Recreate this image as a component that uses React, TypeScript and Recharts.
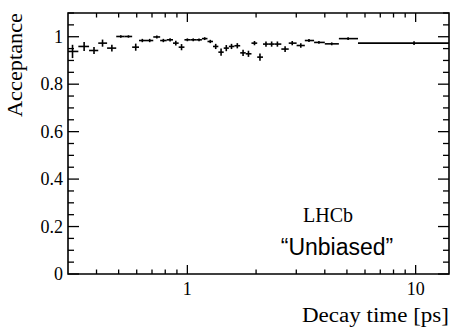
import React from 'react';
import { ScatterChart, Scatter, XAxis, YAxis, ErrorBar, ReferenceArea, Customized } from 'recharts';

// Decay-time bins [ps]: edges, bin centres, acceptance and its uncertainty
const binEdges = [
  0.3, 0.333, 0.371, 0.407, 0.445, 0.488, 0.531, 0.573, 0.614, 0.659, 0.709,
  0.76, 0.812, 0.865, 0.916, 0.971, 1.03, 1.093, 1.158, 1.225, 1.295, 1.367,
  1.443, 1.52, 1.607, 1.704, 1.802, 1.909, 2.023, 2.144, 2.275, 2.41, 2.58,
  2.78, 3.01, 3.27, 3.59, 4.0, 4.61, 5.59, 14,
];
const binCentres = [
  0.314, 0.353, 0.39, 0.425, 0.467, 0.511, 0.552, 0.594, 0.635, 0.684, 0.735,
  0.785, 0.84, 0.89, 0.943, 1.0, 1.061, 1.125, 1.191, 1.26, 1.331, 1.405,
  1.481, 1.561, 1.655, 1.754, 1.852, 1.968, 2.08, 2.21, 2.34, 2.48, 2.68,
  2.88, 3.14, 3.41, 3.77, 4.29, 5.06, 9.84,
];
const acceptance = [
  0.938, 0.959, 0.942, 0.973, 0.952, 1.001, 1.001, 0.956, 0.984, 0.984, 0.999,
  0.984, 0.987, 0.973, 0.956, 0.987, 0.987, 0.987, 0.992, 0.98, 0.959, 0.935,
  0.952, 0.959, 0.962, 0.932, 0.928, 0.973, 0.914, 0.969, 0.969, 0.969, 0.948,
  0.973, 0.963, 0.984, 0.976, 0.97, 0.992, 0.973,
];
const acceptanceErr = [
  0.028, 0.019, 0.015, 0.015, 0.014, 0.005, 0.005, 0.015, 0.007, 0.007, 0.006,
  0.007, 0.007, 0.01, 0.013, 0.006, 0.006, 0.006, 0.006, 0.007, 0.011, 0.015,
  0.013, 0.011, 0.011, 0.013, 0.013, 0.009, 0.015, 0.011, 0.011, 0.011, 0.012,
  0.009, 0.009, 0.006, 0.006, 0.006, 0.006, 0.008,
];

// Axis ticks (all drawn), and the ones that carry a label
const xTicks = [0.4, 0.5, 0.6, 0.7, 0.8, 0.9, 1, 2, 3, 4, 5, 6, 7, 8, 9, 10];
const xLabelled = [1, 10];
const yTicks = [
  0, 0.05, 0.1, 0.15, 0.2, 0.25, 0.3, 0.35, 0.4, 0.45, 0.5, 0.55, 0.6, 0.65,
  0.7, 0.75, 0.8, 0.85, 0.9, 0.95, 1, 1.05, 1.1,
];
const yLabelled = [0, 0.2, 0.4, 0.6, 0.8, 1];

const xDomain: [number, number] = [0.3, 14];
const yDomain: [number, number] = [0, 1.1];

const points = binCentres.map((t, i) => ({
  t,
  acc: acceptance[i],
  ex: [t - binEdges[i], binEdges[i + 1] - t],
  ey: acceptanceErr[i],
}));

const W = 452;
const H = 328;
const MARGIN = { top: 13, right: 3, bottom: 0, left: 0 };
const Y_AXIS_W = 68;
const X_AXIS_H = 54;
const PLOT_TOP = MARGIN.top;
const PLOT_RIGHT = W - MARGIN.right;

const SERIF = '"Liberation Serif", "Times New Roman", serif';
const SANS = '"Liberation Sans", Arial, sans-serif';
const INK = '#000';

const isLabelled = (list: number[], v: number) => list.some((m) => Math.abs(m - v) < 1e-9);

// Bottom axis tick: inward tick on bottom and mirrored tick on top edge
const XTick = (props: any) => {
  const { x, y, payload } = props;
  const v = payload.value as number;
  const major = isLabelled(xLabelled, v);
  const len = major ? 9 : 4.5;
  return (
    <g>
      <line x1={x} y1={y} x2={x} y2={y - len} stroke={INK} strokeWidth={1.3} />
      <line x1={x} y1={PLOT_TOP} x2={x} y2={PLOT_TOP + len} stroke={INK} strokeWidth={1.3} />
      {major && (
        <text x={x} y={y + 21} textAnchor="middle" fontFamily={SERIF} fontSize={18} fill={INK}>
          {String(v)}
        </text>
      )}
    </g>
  );
};

// Left axis tick: inward tick on left and mirrored tick on right edge
const YTick = (props: any) => {
  const { x, y, payload } = props;
  const v = payload.value as number;
  const major = isLabelled(yLabelled, v);
  const len = major ? 11 : 6;
  return (
    <g>
      <line x1={x} y1={y} x2={x + len} y2={y} stroke={INK} strokeWidth={1.3} />
      <line x1={PLOT_RIGHT} y1={y} x2={PLOT_RIGHT - len} y2={y} stroke={INK} strokeWidth={1.3} />
      {major && (
        <text x={x - 5} y={y + 6} textAnchor="end" fontFamily={SERIF} fontSize={18} fill={INK}>
          {String(Math.round(v * 10) / 10)}
        </text>
      )}
    </g>
  );
};

const Annotations = () => (
  <g>
    <text
      x={PLOT_RIGHT}
      y={322}
      textAnchor="end"
      fontFamily={SERIF}
      fontSize={20}
      textLength={147}
      lengthAdjust="spacingAndGlyphs"
      fill={INK}
    >
      Decay time [ps]
    </text>
    <text
      transform={`translate(22, 13) rotate(-90)`}
      textAnchor="end"
      fontFamily={SERIF}
      fontSize={21}
      textLength={104}
      lengthAdjust="spacingAndGlyphs"
      fill={INK}
    >
      Acceptance
    </text>
    <text x={328} y={222} textAnchor="middle" fontFamily={SERIF} fontSize={20} fill={INK}>
      LHCb
    </text>
    <text x={337} y={255} textAnchor="middle" fontFamily={SANS} fontSize={23} fill={INK}>
      {'\u201CUnbiased\u201D'}
    </text>
  </g>
);

const NoMarker = () => <g />;

export default function App() {
  return (
    <div style={{ position: 'absolute', left: 0, top: 0, width: W, height: H, background: '#fff' }}>
      <ScatterChart width={W} height={H} margin={MARGIN}>
        <XAxis
          dataKey="t"
          type="number"
          scale="log"
          domain={xDomain}
          allowDataOverflow
          ticks={xTicks}
          interval={0}
          height={X_AXIS_H}
          axisLine={false}
          tickLine={false}
          tickSize={0}
          tickMargin={0}
          tick={<XTick />}
        />
        <YAxis
          dataKey="acc"
          type="number"
          domain={yDomain}
          allowDataOverflow
          ticks={yTicks}
          interval={0}
          width={Y_AXIS_W}
          axisLine={false}
          tickLine={false}
          tickSize={0}
          tickMargin={0}
          tick={<YTick />}
        />
        <ReferenceArea
          x1={xDomain[0]}
          x2={xDomain[1]}
          y1={yDomain[0]}
          y2={yDomain[1]}
          fill="none"
          fillOpacity={0}
          stroke={INK}
          strokeWidth={1.6}
          ifOverflow="visible"
        />
        <Scatter data={points} shape={<NoMarker />} isAnimationActive={false}>
          <ErrorBar dataKey="ex" direction="x" width={0} stroke={INK} strokeWidth={1.6} isAnimationActive={false} />
          <ErrorBar dataKey="ey" direction="y" width={0} stroke={INK} strokeWidth={1.6} isAnimationActive={false} />
        </Scatter>
        <Customized component={<Annotations />} />
      </ScatterChart>
    </div>
  );
}
